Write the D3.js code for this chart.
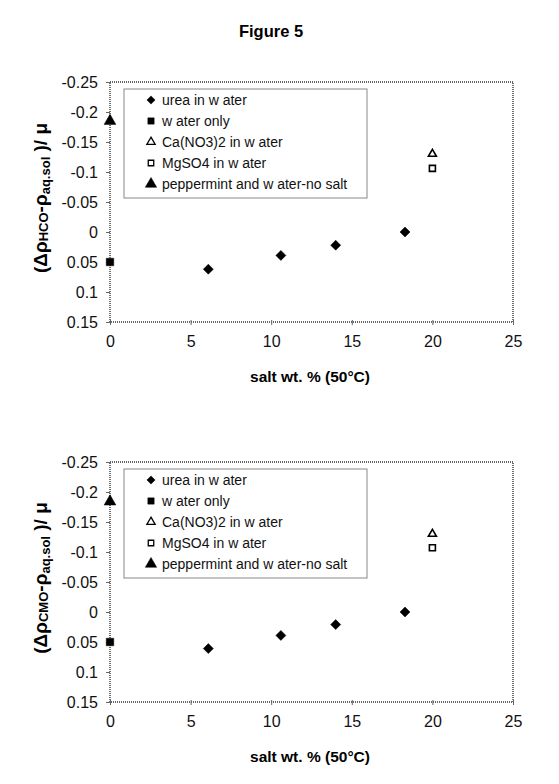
<!DOCTYPE html>
<html>
<head>
<meta charset="utf-8">
<script src="https://cdn.jsdelivr.net/npm/d3@7"></script>
<style>
  body { margin: 0; background: #fff; }
  text { font-family: "Liberation Sans", Arial, sans-serif; }
</style>
</head>
<body>
<div id="fig"></div>
<script>
var width = 559;
var height = 784;

// data
var seriesNames = ["urea in w ater", "w ater only", "Ca(NO3)2 in w ater", "MgSO4 in w ater", "peppermint and w ater-no salt"];
var xTicks = [0, 5, 10, 15, 20, 25];
var yTicks = [-0.25, -0.2, -0.15, -0.1, -0.05, 0, 0.05, 0.1, 0.15];

var ureaSalt = [6.1, 10.6, 14.0, 18.3];
var ureaHCO = [0.062, 0.039, 0.022, 0.0];
var ureaCMO = [0.061, 0.039, 0.021, 0.0];
var waterSalt = [0];
var waterHCO = [0.05];
var waterCMO = [0.05];
var caSalt = [20];
var caHCO = [-0.13];
var caCMO = [-0.13];
var mgSalt = [20];
var mgHCO = [-0.106];
var mgCMO = [-0.107];
var pepSalt = [0];
var pepHCO = [-0.185];
var pepCMO = [-0.184];

var svg = d3.select("#fig").append("svg")
  .attr("width", width)
  .attr("height", height);

svg.append("text")
  .attr("x", 271).attr("y", 37)
  .attr("text-anchor", "middle")
  .attr("font-size", 16.5).attr("font-weight", "bold")
  .text("Figure 5");

var symbols = [
  {type: d3.symbolSquare, size: 50, fill: "#000", rotate: 45},
  {type: d3.symbolSquare, size: 56, fill: "#000", rotate: 0},
  {type: d3.symbolTriangle, size: 28, fill: "#fff", rotate: 0},
  {type: d3.symbolSquare, size: 36, fill: "#fff", rotate: 0},
  {type: d3.symbolTriangle, size: 60, fill: "#000", rotate: 0}
];
var legendSymbols = [
  {type: d3.symbolSquare, size: 34, fill: "#000", rotate: 45},
  {type: d3.symbolSquare, size: 40, fill: "#000", rotate: 0},
  {type: d3.symbolTriangle, size: 30, fill: "#fff", rotate: 0},
  {type: d3.symbolSquare, size: 30, fill: "#fff", rotate: 0},
  {type: d3.symbolTriangle, size: 56, fill: "#000", rotate: 0}
];

function fmt(d) {
  var s = String(+d.toFixed(2));
  return s === "-0" ? "0" : s;
}

function drawChart(top, sub, sets) {
  var left = 110, right = 513, bottom = top + 240;
  var g = svg.append("g");

  var xScale = d3.scaleLinear().domain([0, 25]).range([left, right]);
  var yScale = d3.scaleLinear().domain([-0.25, 0.15]).range([top, bottom]);

  // dotted frame
  g.append("rect")
    .attr("x", left).attr("y", top)
    .attr("width", right - left).attr("height", bottom - top)
    .attr("fill", "none")
    .attr("stroke", "#333")
    .attr("stroke-width", 1.4)
    .attr("stroke-dasharray", "1,1");

  var xAxis = d3.axisBottom(xScale).tickValues(xTicks).tickSize(4).tickFormat(d3.format("d"));
  var yAxis = d3.axisLeft(yScale).tickValues(yTicks).tickSize(4).tickFormat(fmt);

  var gx = g.append("g")
    .attr("transform", "translate(0," + bottom + ")")
    .call(xAxis);
  gx.select(".domain").remove();
  gx.selectAll("line").attr("stroke", "#666").attr("y1", -2).attr("y2", 3);
  gx.selectAll("text").attr("font-size", 16).attr("dy", "1.15em").attr("fill", "#111")
    .attr("font-family", "Liberation Sans, Arial, sans-serif");

  var gy = g.append("g")
    .attr("transform", "translate(" + left + ",0)")
    .call(yAxis);
  gy.select(".domain").remove();
  gy.selectAll("line").attr("stroke", "#666");
  gy.selectAll("text").attr("font-size", 16).attr("x", -12).attr("fill", "#111")
    .attr("font-family", "Liberation Sans, Arial, sans-serif");

  // axis titles
  g.append("text")
    .attr("x", 310).attr("y", bottom + 60)
    .attr("text-anchor", "middle")
    .attr("font-size", 15.5).attr("font-weight", "bold")
    .text("salt wt. %  (50°C)");

  var ylab = g.append("text")
    .attr("transform", "translate(47," + (top + 116) + ") rotate(-90)")
    .attr("text-anchor", "middle")
    .attr("font-size", 19).attr("font-weight", "bold");
  ylab.append("tspan").text("(Δρ");
  ylab.append("tspan").attr("font-size", 13).attr("dy", 1).text(sub);
  ylab.append("tspan").attr("dy", -1).text("-ρ");
  ylab.append("tspan").attr("font-size", 13).attr("dy", 3).text("aq.sol");
  ylab.append("tspan").attr("dy", -3).text(" )/ μ");

  // points
  sets.forEach(function(s, i) {
    var sym = symbols[i];
    var pts = s.x.map(function(v, j) { return {x: v, y: s.y[j]}; });
    g.selectAll(".pt" + i)
      .data(pts)
      .enter().append("path")
      .attr("d", d3.symbol().type(sym.type).size(sym.size))
      .attr("transform", function(d) {
        return "translate(" + xScale(d.x) + "," + yScale(d.y) + ") rotate(" + sym.rotate + ")";
      })
      .attr("fill", sym.fill)
      .attr("stroke", "#000")
      .attr("stroke-width", sym.fill === "#000" ? 0.5 : 1.6);
  });

  // legend
  var lg = g.append("g");
  lg.append("rect")
    .attr("x", 124).attr("y", top + 7)
    .attr("width", 243).attr("height", 109)
    .attr("fill", "#fff")
    .attr("stroke", "#888").attr("stroke-width", 1);
  seriesNames.forEach(function(name, i) {
    var ly = top + 18 + i * 21;
    var sym = legendSymbols[i];
    lg.append("path")
      .attr("d", d3.symbol().type(sym.type).size(sym.size))
      .attr("transform", "translate(151," + ly + ") rotate(" + sym.rotate + ")")
      .attr("fill", sym.fill)
      .attr("stroke", "#000")
      .attr("stroke-width", sym.fill === "#000" ? 0.5 : 1.3);
    lg.append("text")
      .attr("x", 162).attr("y", ly + 5)
      .attr("font-size", 14)
      .attr("fill", "#111")
      .text(name);
  });
}

drawChart(82, "HCO", [
  {x: ureaSalt, y: ureaHCO},
  {x: waterSalt, y: waterHCO},
  {x: caSalt, y: caHCO},
  {x: mgSalt, y: mgHCO},
  {x: pepSalt, y: pepHCO}
]);

drawChart(462, "CMO", [
  {x: ureaSalt, y: ureaCMO},
  {x: waterSalt, y: waterCMO},
  {x: caSalt, y: caCMO},
  {x: mgSalt, y: mgCMO},
  {x: pepSalt, y: pepCMO}
]);
</script>
</body>
</html>
